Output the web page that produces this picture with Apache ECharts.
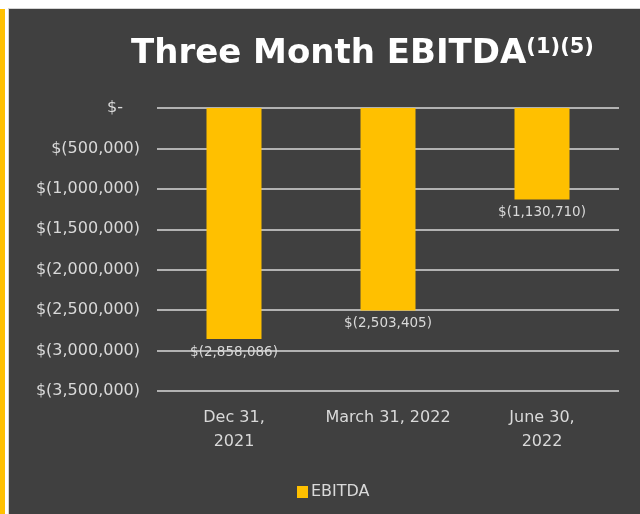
<!DOCTYPE html>
<html>
<head>
<meta charset="utf-8">
<script src="https://cdn.jsdelivr.net/npm/echarts@6/dist/echarts.min.js"></script>
<style>
    html, body { margin: 0; padding: 0; background: #ffffff; }
    #chart { width: 640px; height: 514px; }
</style>
</head>
<body>
<div id="chart"></div>
<script>
// 数据
var categories = ['Dec 31,\n2021', 'March 31, 2022', 'June 30,\n2022'];
var ebitdaValues = [-2858086, -2503405, -1130710];
var seriesName = 'EBITDA';
var axisMin = -3500000;
var axisMax = 0;
var axisStep = 500000;

var yellow = '#ffc000';
var textColor = '#d9d9d9';

function money(v) {
    return Math.abs(v).toString().replace(/\B(?=(\d{3})+(?!\d))/g, ',');
}

var chart = echarts.init(document.getElementById('chart'));
chart.setOption({
    backgroundColor: '#ffffff',
    animation: false,
    textStyle: { fontFamily: 'DejaVu Sans' },
    graphic: [
        // 背景与左侧黄条
        { type: 'rect', shape: { x: 8, y: 8, width: 632, height: 506 }, style: { fill: '#d4d4d4' }, z: -10 },
        { type: 'rect', shape: { x: 9, y: 9, width: 631, height: 505 }, style: { fill: '#404040' }, z: -9 },
        { type: 'rect', shape: { x: 0, y: 9, width: 5, height: 505 }, style: { fill: yellow }, z: -9 }
    ],
    title: {
        text: 'Three Month EBITDA{sup|(1)(5)}',
        left: 126,
        top: 32,
        textStyle: {
            color: '#ffffff',
            fontSize: 34,
            fontWeight: 'bold',
            fontFamily: 'DejaVu Sans',
            rich: {
                sup: { color: '#ffffff', fontSize: 21, fontWeight: 'bold', verticalAlign: 'top', padding: [0, 0, 14, 0] }
            }
        }
    },
    legend: {
        data: [seriesName],
        left: 292,
        top: 479,
        itemWidth: 11,
        itemHeight: 12,
        itemGap: 4,
        icon: 'rect',
        textStyle: { color: textColor, fontSize: 16, padding: [0, 0, 0, -2] }
    },
    grid: { left: 157, right: 21, top: 108, bottom: 123 },
    xAxis: {
        type: 'category',
        data: categories,
        axisLine: { show: false },
        axisTick: { show: false },
        axisLabel: { color: textColor, fontSize: 16, lineHeight: 24, margin: 15, interval: 0 }
    },
    yAxis: {
        type: 'value',
        min: axisMin,
        max: axisMax,
        interval: axisStep,
        axisLine: { show: false },
        axisTick: { show: false },
        splitLine: { lineStyle: { color: textColor, width: 1.5 } },
        axisLabel: {
            color: textColor,
            fontSize: 16,
            margin: 17,
            formatter: function (v) {
                if (v === 0) return '{z|$-}';
                return '$(' + money(v) + ')';
            },
            rich: { z: { color: textColor, fontSize: 16, padding: [0, 17, 0, 0] } }
        }
    },
    series: [{
        name: seriesName,
        type: 'bar',
        data: ebitdaValues,
        barWidth: 55,
        itemStyle: { color: yellow },
        label: {
            show: true,
            position: 'bottom',
            distance: 6,
            color: textColor,
            fontSize: 13.5,
            formatter: function (p) { return '$(' + money(p.value) + ')'; }
        }
    }]
});
</script>
</body>
</html>
